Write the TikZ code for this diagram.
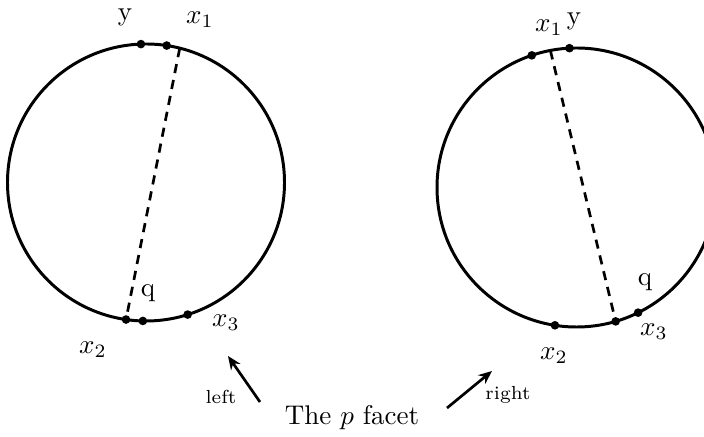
\documentclass[tikz,border=0pt]{standalone}
\usetikzlibrary{arrows.meta}
\begin{document}
\begin{tikzpicture}[x=0.37pt,y=-0.37pt,
  ring/.style={line width=1.1pt},
  pt/.style={circle,fill=black,inner sep=0pt,minimum size=3.2pt},
  chord/.style={dashed,line width=1pt,dash pattern=on 3.4pt off 2.6pt},
  lbl/.style={inner sep=0pt},
  small/.style={inner sep=0pt,font=\scriptsize},
  arr/.style={-{Stealth[length=5pt,width=4.2pt]},line width=1pt}]
\useasboundingbox (0,0) rectangle (704,437);
\begin{scope}
\clip (0,0) rectangle (704,437);
% left circle
\coordinate (L) at (146,182.5);
\draw[ring] (L) circle[radius=138.5];
\path (L) ++(-92.1:138.5) node[pt] (Ly) {};
\path (L) ++(-81.4:138.5) node[pt] (Lx1) {};
\path (L) ++(-75.9:138.5) coordinate (Ltop);
\path (L) ++(98.3:138.5) node[pt] (Lx2) {};
\path (L) ++(91.3:138.5) node[pt] (Lq) {};
\path (L) ++(72.5:138.5) node[pt] (Lx3) {};
\draw[chord] (Ltop) -- (Lx2.center);
% right circle
\coordinate (R) at (576.5,187.5);
\draw[ring] (R) circle[radius=139.5];
\path (R) ++(-108.7:139.5) node[pt] (Rx1) {};
\path (R) ++(-92.9:139.5) node[pt] (Ry) {};
\path (R) ++(-100.8:139.5) coordinate (Rtop);
\path (R) ++(98.9:139.5) node[pt] (Rx2) {};
\path (R) ++(73.7:139.5) node[pt] (Rm) {};
\path (R) ++(63.8:139.5) node[pt] (Rq) {};
\draw[chord] (Rtop) -- (Rm.center);
\end{scope}
% left labels
\node[lbl] (tLy) at (125,17) {y};
\node[lbl] (tLx1) at (200,20) {$x_1$};
\node[lbl] (tLq) at (148,293) {q};
\node[lbl] (tLx2) at (93,350) {$x_2$};
\node[lbl] (tLx3) at (226,323) {$x_3$};
% right labels
\node[lbl] (tRx1) at (549,28) {$x_1$};
\node[lbl] (tRy) at (574,21) {y};
\node[lbl] (tRq) at (645,282) {q};
\node[lbl] (tRx2) at (554,356) {$x_2$};
\node[lbl] (tRx3) at (654,332) {$x_3$};
% bottom
\node[lbl] (facet) at (352,418) {The $p$ facet};
\coordinate (la0) at (260,402);
\coordinate (la1) at (228,356);
\draw[arr] (la0) -- (la1);
\node[small] (left) at (221,397) {left};
\coordinate (ra0) at (447,408);
\coordinate (ra1) at (492,371);
\draw[arr] (ra0) -- (ra1);
\node[small] (right) at (508,395) {right};
\end{tikzpicture}
\end{document}
